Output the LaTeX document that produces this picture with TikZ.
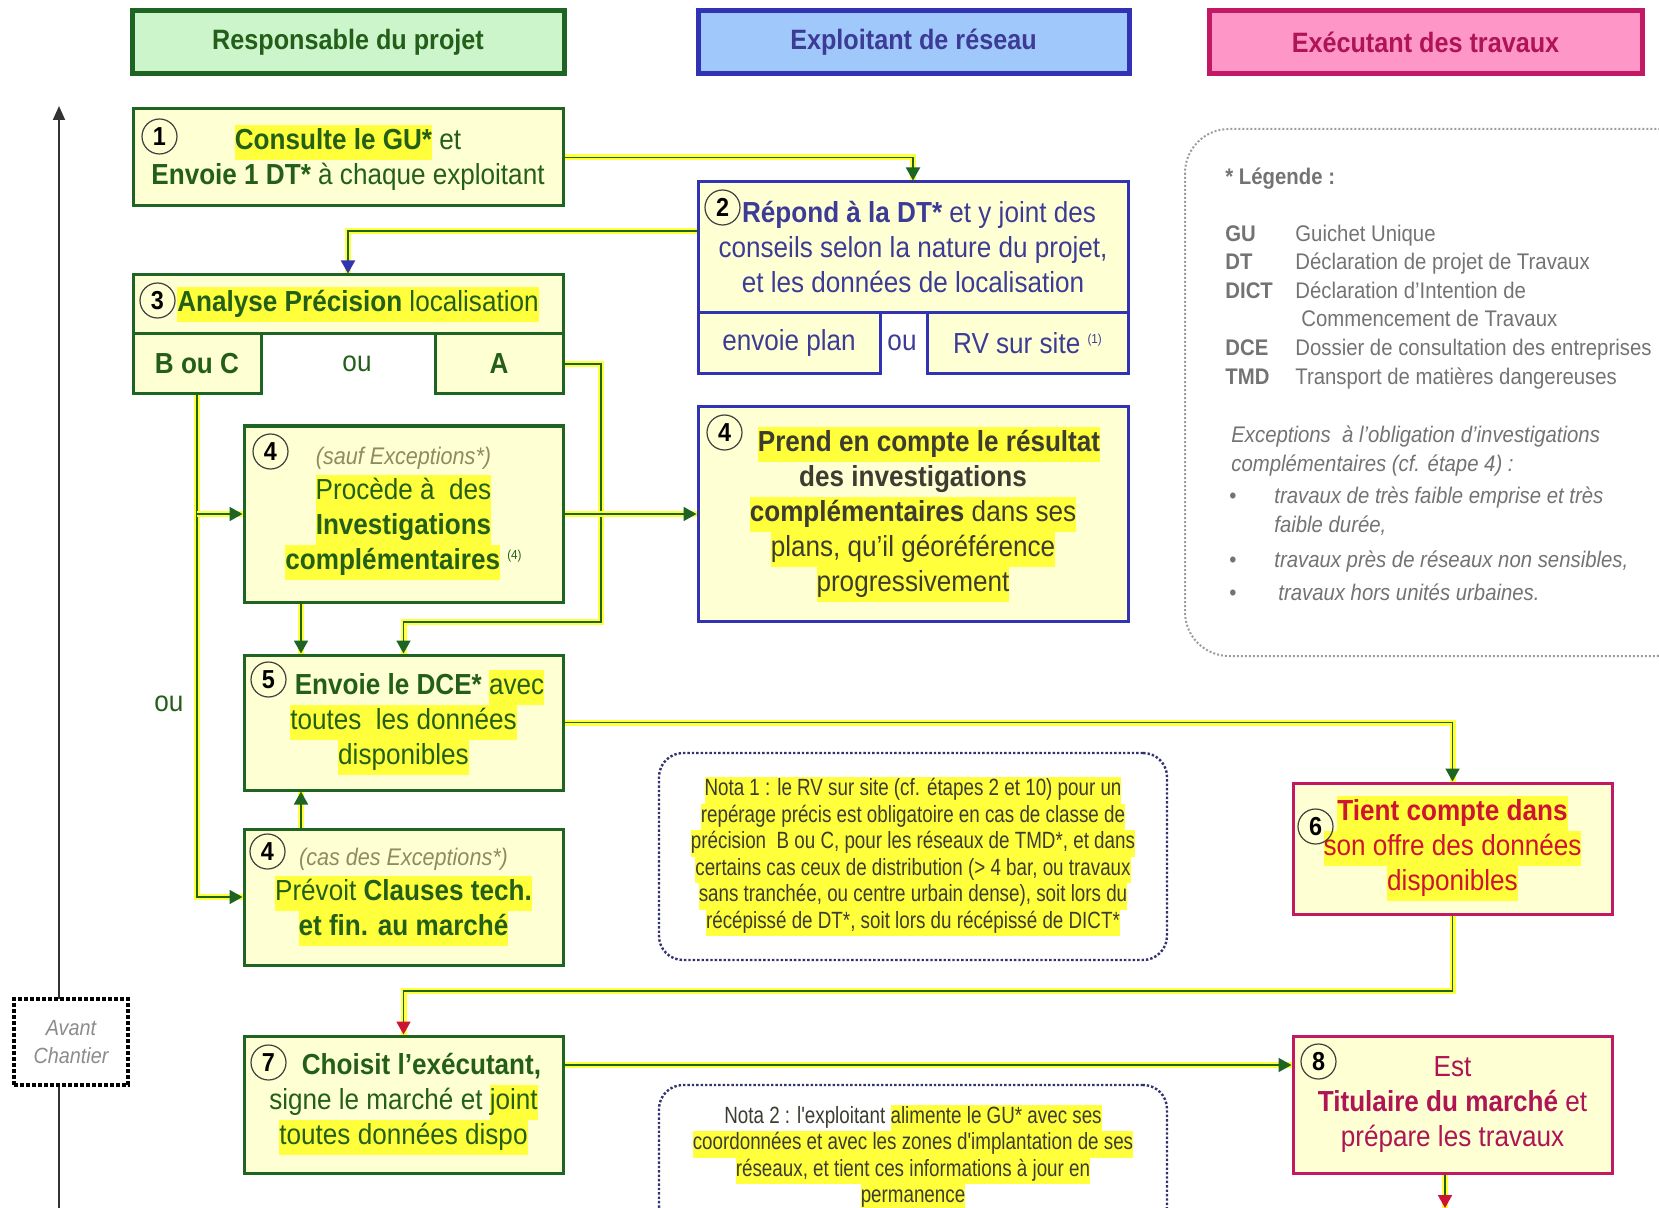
\documentclass[tikz,border=0pt]{standalone}
\usepackage{fontspec}
\setmainfont{Liberation Sans}[FakeStretch=0.9]
\newfontfamily\notafont{Liberation Sans}[FakeStretch=0.8]
\usetikzlibrary{arrows.meta}
\definecolor{hly}{RGB}{255,255,60}
\definecolor{boxfill}{RGB}{255,255,212}
\definecolor{vert}{RGB}{30,100,35}
\definecolor{vertxt}{RGB}{35,95,25}
\definecolor{bleu}{RGB}{50,50,180}
\definecolor{bleutxt}{RGB}{60,60,150}
\definecolor{rose}{RGB}{195,25,100}
\definecolor{rosetxt}{RGB}{175,20,85}
\definecolor{rouge}{RGB}{205,20,50}
\definecolor{gristxt}{RGB}{60,60,50}
\definecolor{grislegende}{RGB}{115,115,115}
\definecolor{olivegris}{RGB}{140,140,95}
\definecolor{hdrvert}{RGB}{204,245,204}
\definecolor{hdrbleu}{RGB}{160,200,250}
\definecolor{hdrrose}{RGB}{255,150,200}
\definecolor{pointille}{RGB}{50,50,110}
\newcommand{\hl}[1]{{\setlength{\fboxsep}{0pt}\colorbox{hly}{\strut #1}}}
\newcommand{\appel}[1]{{\fontsize{6.5}{6.5}\selectfont\raisebox{5pt}{(#1)}}}
\begin{document}
\begin{tikzpicture}[x=0.5pt,y=-0.5pt,
  hdr/.style={draw=#1, line width=2.5pt, inner sep=0pt, font=\bfseries\fontsize{14}{17}\selectfont},
  box/.style={draw=#1, line width=1.5pt, fill=boxfill, inner sep=0pt, align=center, font=\fontsize{14.5}{17.5}\selectfont},
  wh/.style 2 args={minimum width=#1*0.5pt, minimum height=#2*0.5pt},
  num/.style={circle, draw=black!75, line width=0.6pt, minimum size=17.5pt, inner sep=0pt, font=\bfseries\fontsize{13}{13}\selectfont},
  link/.style={draw=vert, line width=0.9pt, -{Triangle[length=6.5pt,width=7pt,color=#1]}, preaction={draw=hly, line width=3pt, -}},
  link/.default=vert,
  nota/.style={draw=pointille, line width=1.2pt, dash pattern=on 1.2pt off 1pt, rounded corners=12pt, fill=white, align=center, inner sep=0pt, text=gristxt, font=\notafont\fontsize{11.75}{13.25}\selectfont},
  ou/.style={font=\fontsize{14.5}{17.5}\selectfont}
]
\useasboundingbox (0,0) rectangle (1659,1208);
\fill[white] (0,0) rectangle (1659,1208);
% en-tetes des colonnes
\node[hdr=vert,fill=hdrvert,text=vertxt,wh={432}{63}] (h1) at (348,42.5) {Responsable du projet};
\node[hdr=bleu,fill=hdrbleu,text=bleutxt,wh={431}{63}] (h2) at (913.5,42.5) {Exploitant de réseau};
\node[hdr=rose,fill=hdrrose,text=rosetxt,wh={433}{63}] (h3) at (1425.5,42.5) {Exécutant des travaux};
% axe du temps
\coordinate (axebas) at (59,1208);
\coordinate (axehaut) at (59,106);
\draw[black!80, line width=0.9pt, -{Triangle[length=7pt,width=6pt]}] (axebas) -- (axehaut);
\node[draw=black, line width=2pt, dash pattern=on 2pt off 1pt, fill=white, wh={114}{86}, align=center, text=black!45, font=\itshape\fontsize{11}{14}\selectfont] (avant) at (71,1042) {Avant\\Chantier};
% etapes
\node[box=vert,text=vertxt,wh={430}{97}] (b1) at (348,157.5) {\hl{\textbf{Consulte le GU*}} et\\\textbf{Envoie 1 DT*} à chaque exploitant};
\node[box=bleu,text=bleutxt,wh={430}{131}] (b2) at (913,247.5) {\hspace{6pt}\textbf{Répond à la DT*} et y joint des\\conseils selon la nature du projet,\\et les données de localisation};
\node[box=bleu,text=bleutxt,wh={182}{61}] (plan) at (789,343.5) {envoie plan};
\node[ou,text=bleutxt] (ou2) at (902,343) {ou};
\node[box=bleu,text=bleutxt,wh={201}{61}] (rv) at (1027.5,343.5) {RV sur site \appel{1}};
\node[box=vert,text=vertxt,wh={430}{59}] (b3) at (348,304.5) {\hspace{10pt}\hl{\textbf{Analyse Précision} localisation}};
\node[box=vert,text=vertxt,wh={128}{60}] (bc) at (197,364) {\textbf{B ou C}};
\node[ou,text=vertxt] (ou3) at (357,364) {ou};
\node[box=vert,text=vertxt,wh={128}{60}] (ba) at (499,364) {\textbf{A}};
\node[box=vert,text=vertxt,wh={319}{176}] (b4a) at (403.5,514) {{\color{olivegris}\itshape\fontsize{12}{14}\selectfont (sauf Exceptions*)}\\\hl{Procède à~ des}\\\hl{\textbf{Investigations}}\\\hl{\textbf{complémentaires}} \appel{4}};
\node[box=bleu,text=gristxt,wh={430}{214}] (b4b) at (913,514) {\hspace{16pt}\hl{\textbf{Prend en compte le résultat}}\\\textbf{des investigations}\\\hl{\textbf{complémentaires} dans ses}\\\hl{plans, qu'il géoréférence}\\\hl{progressivement}};
\node[box=vert,text=vertxt,wh={319}{135}] (b5) at (403.5,722.5) {\hspace{16pt}\textbf{Envoie le DCE*} \hl{avec}\\\hl{toutes~ les données}\\\hl{disponibles}};
\node[box=vert,text=vertxt,wh={319}{136}] (b4c) at (403.5,897) {{\color{olivegris}\itshape\fontsize{12}{14}\selectfont (cas des Exceptions*)}\\\hl{Prévoit \textbf{Clauses tech.}}\\\hl{\textbf{et fin. au marché}}};
\node[box=rose,text=rouge,wh={319}{131}] (b6) at (1452.5,848.5) {\bfseries\hl{Tient compte dans}\\\hl{son offre des données}\\\hl{disponibles}};
\node[box=vert,text=vertxt,wh={319}{137}] (b7) at (403.5,1104.5) {\hspace{18pt}\textbf{Choisit l’exécutant,}\\signe le marché et \hl{joint}\\\hl{toutes données dispo}};
\node[box=rose,text=rosetxt,wh={319}{137}] (b8) at (1452.5,1104.5) {Est\\\textbf{Titulaire du marché} et\\prépare les travaux};
\node[ou,text=vertxt] (ouG) at (169,704) {ou};
% numeros
\foreach \b/\t/\dx/\dy in {b1/1/28/29, b2/2/26/27, b3/3/26/27, b4a/4/28/27, b4b/4/28/27, b5/5/26/26, b4c/4/25/24, b6/6/24/45, b7/7/26/28, b8/8/27/27}
  \node[num] (n\b) at ([shift={(\dx,\dy)}]\b.north west) {\t};
% liaisons
\coordinate (niv2) at (0,231);
\coordinate (coudeA) at (601,622);
\coordinate (x4) at (301,0);
\coordinate (retour) at (0,991);
\coordinate (niv7) at (0,1065);
\coordinate (bas) at (1445,1208);
\draw[link] (b1.east) -| (b2.north);
\draw[link=bleu] (b2.west |- niv2) -| (b3.north);
\draw[link] (bc.south) |- (b4c.west);
\draw[link] (bc.south |- b4a.west) -- (b4a.west);
\draw[link] (ba.east) -| (coudeA) -| (b5.north);
\draw[link] (b4a.east) -- (b4b.west);
\draw[link] (x4 |- b4a.south) -- (x4 |- b5.north);
\draw[link] (x4 |- b4c.north) -- (x4 |- b5.south);
\draw[link] (b5.east) -| (b6.north);
\draw[link=rouge] (b6.south) -- (b6.south |- retour) -| (b7.north);
\draw[link] (b7.east |- niv7) -- (b8.west |- niv7);
\draw[link=rouge] (b8.south -| bas) -- (bas);
% notas
\node[nota,wh={508}{207}] (nota1) at (913,856.5) {\hl{Nota 1 : le RV sur site (cf. étapes 2 et 10) pour un}\\\hl{repérage précis est obligatoire en cas de classe de}\\\hl{précision~ B ou C, pour les réseaux de TMD*, et dans}\\\hl{certains cas ceux de distribution (> 4 bar, ou travaux}\\\hl{sans tranchée, ou centre urbain dense), soit lors du}\\\hl{récépissé de DT*, soit lors du récépissé de DICT*}};
\node[nota,wh={508}{145}] (nota2) at (913,1157.5) {Nota 2 : l'exploitant \hl{alimente le GU* avec ses}\\\hl{coordonnées et avec les zones d'implantation de ses}\\\hl{réseaux, et tient ces informations à jour en}\\\hl{permanence}};
% legende
\draw[grislegende!70, line width=1pt, dash pattern=on 1pt off 1pt, rounded corners=22pt] (1185,129) rectangle (1700,656);
\node[anchor=north west, inner sep=0pt, text=grislegende, font=\fontsize{11.3}{14.3}\selectfont] (legende) at (1225,164) {%
\begin{tabular}{@{}p{35pt}@{}l@{}}
\multicolumn{2}{@{}l@{}}{\textbf{* Légende :}}\\[14pt]
\textbf{GU} & Guichet Unique\\
\textbf{DT} & Déclaration de projet de Travaux\\
\textbf{DICT} & Déclaration d'Intention de\\
 & \hspace{3pt}Commencement de Travaux\\
\textbf{DCE} & Dossier de consultation des entreprises\\
\textbf{TMD} & Transport de matières dangereuses\\[15pt]
\multicolumn{2}{@{}l@{}}{\hspace{3pt}\itshape Exceptions~ à l'obligation d'investigations}\\
\multicolumn{2}{@{}l@{}}{\hspace{3pt}\itshape complémentaires (cf. étape 4) :}\\[2pt]
\multicolumn{2}{@{}l@{}}{\hspace{2pt}\makebox[22.5pt][l]{\textbullet}\itshape travaux de très faible emprise et très}\\
\multicolumn{2}{@{}l@{}}{\hspace{24.5pt}\itshape faible durée,}\\[3pt]
\multicolumn{2}{@{}l@{}}{\hspace{2pt}\makebox[22.5pt][l]{\textbullet}\itshape travaux près de réseaux non sensibles,}\\[2.5pt]
\multicolumn{2}{@{}l@{}}{\hspace{2pt}\makebox[24.5pt][l]{\textbullet}\itshape travaux hors unités urbaines.}
\end{tabular}};
\end{tikzpicture}
\end{document}
